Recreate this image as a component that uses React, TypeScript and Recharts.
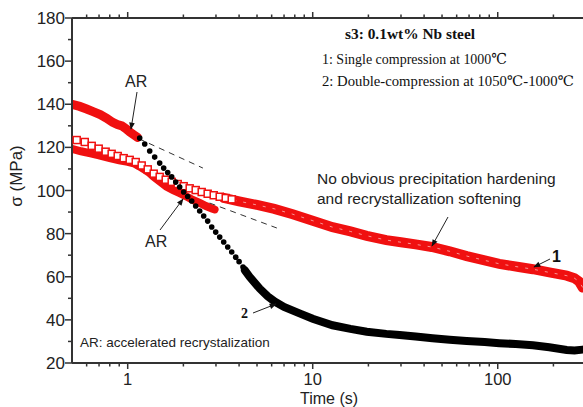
import React from 'react';
import { ComposedChart, Line, XAxis, YAxis } from 'recharts';

// time axis (s), log scale
const xDomain = [0.5, 300];
const xTicks = [0.6, 0.7, 0.8, 0.9, 1, 2, 3, 4, 5, 6, 7, 8, 9, 10, 20, 30, 40, 50, 60, 70, 80, 90, 100, 200];
const xMajor = [1, 10, 100];
const yTicks = [20, 30, 40, 50, 60, 70, 80, 90, 100, 110, 120, 130, 140, 150, 160, 170, 180];

// curve 1: single compression, open squares (early part)
const sqT = [0.53, 0.586, 0.639, 0.697, 0.76, 0.819, 0.883, 0.951, 1.025, 1.105, 1.19, 1.283, 1.382, 1.489, 1.605, 1.729, 1.863, 2.007, 2.163, 2.331, 2.512, 2.706, 2.917, 3.143, 3.387, 3.65];
const sqS = [123.4, 122.5, 120.7, 119.4, 118, 117, 116, 115, 114.2, 113.2, 111.6, 109.8, 107.8, 106.3, 105, 104, 103, 102, 101, 100.2, 99.3, 98.5, 97.8, 97.1, 96.5, 95.9];

// curve 1: dense part, squares merge into a band
const bandT = [3.3, 4, 5, 6.2, 7.8, 10, 12.8, 16, 19.6, 25, 30, 36, 44, 55, 68, 85, 102, 130, 155, 190, 236, 260, 275, 288];
const bandS = [96.6, 95, 93.3, 91.5, 89, 86, 83, 81, 79, 77, 76, 75, 73.8, 71.8, 69.6, 67.6, 66, 64.5, 63.5, 62, 60.5, 59.3, 57.8, 55];

// curve 2: double compression, first part (red)
const upT = [0.5, 0.55, 0.6, 0.65, 0.71, 0.77, 0.83, 0.88, 0.93, 0.98, 1.03, 1.08, 1.13];
const upS = [140, 139, 137.8, 136.6, 135.2, 133.5, 131.6, 130.6, 130, 128.6, 127, 125.8, 124.6];

// lower red curve up to ~3 s
const lowT = [0.5, 0.56, 0.63, 0.7, 0.8, 0.9, 1.0, 1.08, 1.15, 1.22, 1.3, 1.38, 1.5, 1.62, 1.76, 1.91, 2.08, 2.25, 2.45, 2.65, 2.85, 2.95];
const lowS = [119.3, 118.2, 117.2, 116.3, 115, 114, 113.3, 112.6, 111.3, 110, 108.4, 106.4, 104, 101.8, 100.2, 98.8, 97.2, 95.6, 94.2, 92.8, 91.6, 91.2];

// curve 2: black dots after AR
const dotT = [1.161, 1.236, 1.315, 1.399, 1.489, 1.565, 1.645, 1.729, 1.818, 1.91, 2.007, 2.11, 2.218, 2.331, 2.45, 2.575, 2.706, 2.845, 2.99, 3.143, 3.303, 3.472, 3.65, 3.836, 4.0, 4.2, 4.4];
const dotS = [124.3, 121.6, 118.3, 115.5, 112.7, 110.4, 108.3, 106.3, 103.9, 101.6, 99.3, 97.2, 95.1, 92.8, 90.5, 88.2, 85.8, 83.1, 80.7, 78.4, 76.1, 73.8, 71.5, 69.1, 67, 64.5, 62];

// curve 2: dense black part
const blkT = [4.3, 4.56, 5.17, 5.7, 6.23, 7, 8.49, 10, 12.8, 16, 19.6, 25, 29.5, 36, 44.4, 55, 67.9, 85, 102, 125, 155, 190, 236, 260, 288];
const blkS = [63, 60, 54.5, 51, 48.5, 46, 43, 40.5, 37.5, 35.8, 34.5, 33.5, 33, 32.3, 31.5, 30.8, 30.2, 29.7, 29.2, 28.8, 28.2, 27.3, 26, 25.8, 26.2];

// tangent (dashed) lines
const tanUpT = [1.15, 2.55];
const tanUpS = [124, 110.4];
const tanLowT = [2.77, 6.4];
const tanLowS = [94.2, 82.6];

const zip = (t: number[], s: number[]) => t.map((v, i) => ({ t: v, s: s[i] }));

const RED = '#f01010';
const INK = '#222';
const AXIS = '#333';
const SANS = '"Liberation Sans", Arial, sans-serif';
const SERIF = '"Liberation Serif", "DejaVu Serif", "Times New Roman", serif';

const BottomTick = (p: any) => {
  const v = p.payload.value;
  const major = xMajor.includes(v);
  return (
    <g>
      <line x1={p.x} y1={p.y} x2={p.x} y2={p.y + (major ? 6 : 3.5)} stroke={AXIS} strokeWidth={1.5} />
      {major && (
        <text x={p.x} y={p.y + 22} textAnchor="middle" fontSize={16.5} fontFamily={SANS} fill={INK}>{v}</text>
      )}
    </g>
  );
};

const TopTick = (p: any) => {
  const major = xMajor.includes(p.payload.value);
  return <line x1={p.x} y1={p.y} x2={p.x} y2={p.y - (major ? 6 : 3.5)} stroke={AXIS} strokeWidth={1.5} />;
};

const LeftTick = (p: any) => {
  const v = p.payload.value;
  const major = v % 20 === 0;
  return (
    <g>
      <line x1={p.x} y1={p.y} x2={p.x - (major ? 7 : 4)} y2={p.y} stroke={AXIS} strokeWidth={1.5} />
      {major && (
        <text x={p.x - 7} y={p.y + 6} textAnchor="end" fontSize={17} fontFamily={SANS} fill={INK}>{v}</text>
      )}
    </g>
  );
};

const Square = (p: any) => (
  <rect key={p.index} x={p.cx - 3.5} y={p.cy - 3.5} width={7} height={7} fill="#fff" stroke={RED} strokeWidth={1.5} />
);

const Overlay = () => (
  <svg width={583} height={407} style={{ position: 'absolute', left: 0, top: 0, pointerEvents: 'none' }}>
    <defs>
      <marker id="ah" viewBox="0 0 10 10" refX="9" refY="5" markerWidth="8" markerHeight="7" orient="auto" markerUnits="userSpaceOnUse">
        <path d="M0,1 L10,5 L0,9 z" fill="#111" />
      </marker>
    </defs>
    <text transform="translate(22,176) rotate(-90)" textAnchor="middle" fontSize={17} fontFamily={SANS} fill={INK}>σ (MPa)</text>
    <text x={329} y={403.5} textAnchor="middle" fontSize={16} fontFamily={SANS} fill={INK}>Time (s)</text>

    <text x={345} y={39} textLength={130} lengthAdjust="spacingAndGlyphs" fontSize={15} fontWeight="bold" fontFamily={SERIF} fill="#111">s3: 0.1wt% Nb steel</text>
    <text x={322} y={64} textLength={185} lengthAdjust="spacingAndGlyphs" fontSize={15} fontFamily={SERIF} fill="#111">1: Single compression  at 1000℃</text>
    <text x={322} y={86} textLength={252} lengthAdjust="spacingAndGlyphs" fontSize={14.5} fontFamily={SERIF} fill="#111">2: Double-compression at 1050℃-1000℃</text>

    <text x={125} y={87} fontSize={16} fontFamily={SANS} fill={INK}>AR</text>
    <line x1={137} y1={92} x2={131} y2={129} stroke="#222" strokeWidth={1} markerEnd="url(#ah)" />

    <text x={145} y={247} fontSize={16} fontFamily={SANS} fill={INK}>AR</text>
    <line x1={160} y1={230} x2={183} y2={199} stroke="#222" strokeWidth={1} markerEnd="url(#ah)" />

    <text x={317} y={184} fontSize={15.5} fontFamily={SANS} fill={INK}>No obvious precipitation hardening</text>
    <text x={317} y={204} fontSize={15.5} fontFamily={SANS} fill={INK}>and recrystallization softening</text>
    <line x1={448} y1={217} x2={432} y2={246} stroke="#222" strokeWidth={1} markerEnd="url(#ah)" />

    <text x={552} y={262} fontSize={16} fontWeight="bold" fontFamily={SANS} fill="#111">1</text>
    <line x1={550} y1={259} x2={534} y2={267} stroke="#222" strokeWidth={1} markerEnd="url(#ah)" />

    <text x={241} y={318} fontSize={14} fontWeight="bold" fontFamily={SERIF} fill="#111">2</text>
    <line x1={253} y1={313} x2={276} y2={304} stroke="#222" strokeWidth={1} markerEnd="url(#ah)" />

    <text x={80} y={347} fontSize={13.5} fontFamily={SANS} fill={INK}>AR: accelerated recrystalization</text>
  </svg>
);

export default function App() {
  return (
    <div style={{ position: 'fixed', left: 0, top: 0, width: 583, height: 407, overflow: 'hidden', background: '#fff' }}>
      <ComposedChart width={586} height={407} margin={{ top: 17, right: 0, bottom: 0, left: 71 }}>
        <XAxis
          xAxisId="b"
          dataKey="t"
          type="number"
          scale="log"
          domain={xDomain}
          allowDataOverflow
          ticks={xTicks}
          interval={0}
          tickSize={0}
          tickMargin={0}
          height={44}
          tick={BottomTick}
          stroke={AXIS}
          axisLine={{ stroke: AXIS, strokeWidth: 2 }}
        />
        <XAxis
          xAxisId="top"
          orientation="top"
          dataKey="t"
          type="number"
          scale="log"
          domain={xDomain}
          allowDataOverflow
          ticks={xTicks}
          interval={0}
          tickSize={0}
          tickMargin={0}
          height={1}
          tick={TopTick}
          stroke={AXIS}
          axisLine={{ stroke: AXIS, strokeWidth: 2 }}
        />
        <YAxis
          yAxisId="l"
          type="number"
          domain={[20, 180]}
          allowDataOverflow
          ticks={yTicks}
          interval={0}
          tickSize={0}
          tickMargin={0}
          width={1}
          tick={LeftTick}
          stroke={AXIS}
          axisLine={{ stroke: AXIS, strokeWidth: 2 }}
        />

        {/* curve 1 band, tied to the top axis (same log scale) so that axis is drawn */}
        <Line xAxisId="top" yAxisId="l" data={zip(bandT, bandS)} dataKey="s" stroke={RED} strokeWidth={10} strokeLinecap="round" dot={false} isAnimationActive={false} />
        <Line xAxisId="b" yAxisId="l" data={zip(bandT, bandS)} dataKey="s" stroke="#fff" strokeOpacity={0.55} strokeWidth={1} strokeDasharray="3 7" dot={false} isAnimationActive={false} />
        <Line xAxisId="b" yAxisId="l" data={zip(sqT, sqS)} dataKey="s" stroke="none" dot={Square} isAnimationActive={false} />
        <Line xAxisId="b" yAxisId="l" data={zip(blkT, blkS)} dataKey="s" stroke="#000" strokeWidth={8} strokeLinecap="round" dot={false} isAnimationActive={false} />
        <Line xAxisId="b" yAxisId="l" data={zip(dotT, dotS)} dataKey="s" stroke="none" dot={{ r: 2.8, fill: '#000', stroke: 'none' }} isAnimationActive={false} />
        <Line xAxisId="b" yAxisId="l" data={zip(lowT, lowS)} dataKey="s" stroke={RED} strokeWidth={8} strokeLinecap="round" dot={false} isAnimationActive={false} />
        <Line xAxisId="b" yAxisId="l" data={zip(upT, upS)} dataKey="s" stroke={RED} strokeWidth={9} strokeLinecap="round" dot={false} isAnimationActive={false} />
        <Line xAxisId="b" yAxisId="l" data={zip(tanUpT, tanUpS)} dataKey="s" stroke={AXIS} strokeWidth={1} strokeDasharray="6 5" dot={false} isAnimationActive={false} />
        <Line xAxisId="b" yAxisId="l" data={zip(tanLowT, tanLowS)} dataKey="s" stroke={AXIS} strokeWidth={1} strokeDasharray="6 5" dot={false} isAnimationActive={false} />
      </ComposedChart>
      <Overlay />
    </div>
  );
}
